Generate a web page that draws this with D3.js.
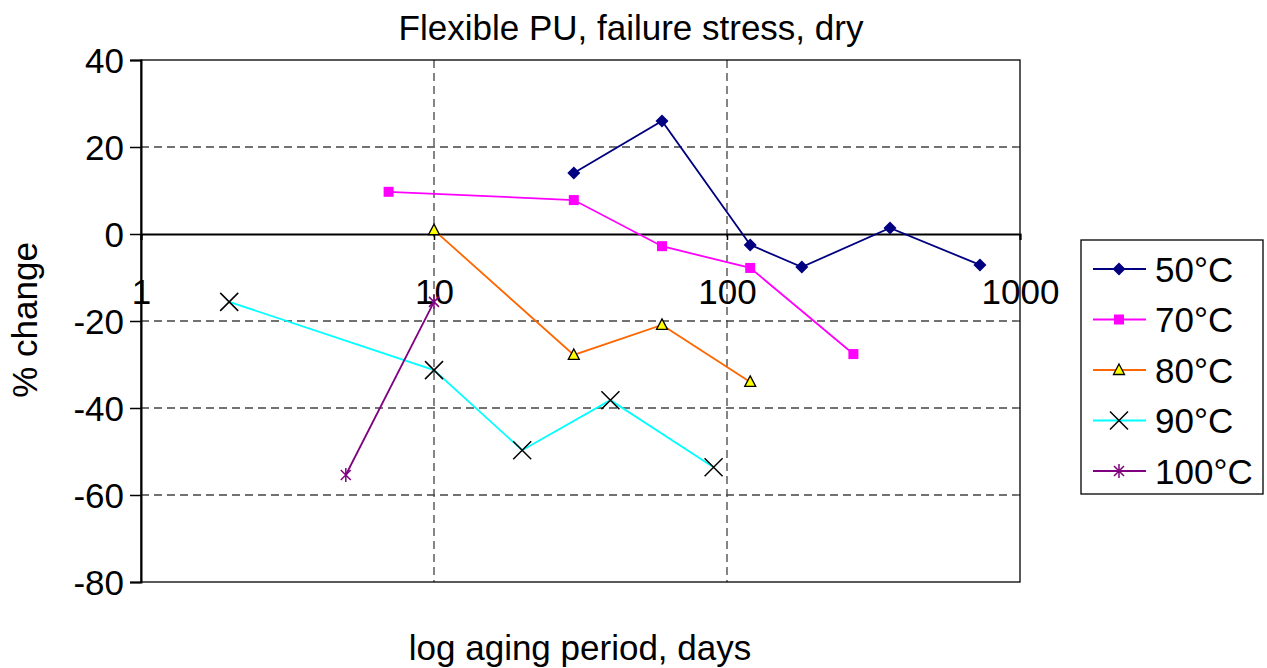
<!DOCTYPE html>
<html>
<head>
<meta charset="utf-8">
<script src="https://cdnjs.cloudflare.com/ajax/libs/d3/7.8.5/d3.min.js"></script>
<style>
  body { margin: 0; background: #fff; }
  text { font-family: "Liberation Sans", Arial, sans-serif; fill: #000; }
</style>
</head>
<body>
<div id="chart-area"></div>
<script>
// aging periods (days) and % change per series
var days50 = [30, 60, 120, 180, 360, 730];
var val50 = [14, 26, -2.5, -7.6, 1.4, -7.1];
var days70 = [7, 30, 60, 120, 270];
var val70 = [9.7, 7.8, -2.8, -7.8, -27.6];
var days80 = [10, 30, 60, 120];
var val80 = [0.9, -27.8, -20.9, -34];
var days90 = [2, 10, 20, 40, 90];
var val90 = [-15.6, -31.3, -49.7, -38.2, -53.6];
var days100 = [5, 10];
var val100 = [-55.4, -15.6];

var seriesNames = ['50°C', '70°C', '80°C', '90°C', '100°C'];
var xTicks = [1, 10, 100, 1000];
var yTicks = [40, 20, 0, -20, -40, -60, -80];

var series = [
  { name: seriesNames[0], days: days50, vals: val50, color: '#000080', marker: 'diamond' },
  { name: seriesNames[1], days: days70, vals: val70, color: '#ff00ff', marker: 'square' },
  { name: seriesNames[2], days: days80, vals: val80, color: '#ff6600', marker: 'triangle' },
  { name: seriesNames[3], days: days90, vals: val90, color: '#00ffff', marker: 'x' },
  { name: seriesNames[4], days: days100, vals: val100, color: '#800080', marker: 'star' }
];

var margin = { left: 141, top: 60 };
var width = 879, height = 522;
var fontFam = '"Liberation Sans", Arial, sans-serif';

var svg = d3.select('#chart-area').append('svg')
  .attr('width', 1267).attr('height', 668);

var g = svg.append('g')
  .attr('transform', 'translate(' + margin.left + ',' + margin.top + ')');

var x = d3.scaleLog().domain([1, 1000]).range([0, width]);
var y = d3.scaleLinear().domain([-80, 40]).range([height, 0]);

// gridlines
g.selectAll('.hgrid').data(yTicks.filter(d => d !== 0 && d !== 40 && d !== -80))
  .enter().append('line')
  .attr('x1', 0).attr('x2', width)
  .attr('y1', d => y(d)).attr('y2', d => y(d))
  .attr('stroke', '#444').attr('stroke-width', 1.3).attr('stroke-dasharray', '8,5');

g.selectAll('.vgrid').data([10, 100])
  .enter().append('line')
  .attr('x1', d => x(d)).attr('x2', d => x(d))
  .attr('y1', 0).attr('y2', height)
  .attr('stroke', '#444').attr('stroke-width', 1.3).attr('stroke-dasharray', '8,5');

// plot border
g.append('rect').attr('width', width).attr('height', height)
  .attr('fill', 'none').attr('stroke', '#000').attr('stroke-width', 1.3);

// y axis
var yAxis = d3.axisLeft(y).tickValues(yTicks).tickFormat(d => String(d)).tickSize(11).tickPadding(6);
var yg = g.append('g').call(yAxis);
yg.select('.domain').attr('stroke-width', 2);
yg.selectAll('.tick line').attr('stroke-width', 1.5);
yg.selectAll('text').attr('font-size', 35).attr('dy', '0.36em')
  .style('font-family', fontFam);

// x axis at y = 0
var xAxis = d3.axisBottom(x).tickValues(xTicks).tickFormat(d3.format('d')).tickSize(6).tickPadding(64);
var xg = g.append('g').attr('transform', 'translate(0,' + y(0) + ')').call(xAxis);
xg.select('.domain').attr('stroke-width', 2);
xg.selectAll('.tick line').attr('stroke-width', 1.5);
xg.selectAll('text').attr('font-size', 35).attr('dy', '0')
  .style('font-family', fontFam);

function drawMarker(sel, s) {
  if (s.marker === 'diamond') {
    sel.append('path').attr('d', 'M0,-6.5L6.5,0L0,6.5L-6.5,0Z')
      .attr('fill', s.color);
  } else if (s.marker === 'square') {
    sel.append('rect').attr('x', -5).attr('y', -5).attr('width', 10).attr('height', 10)
      .attr('fill', s.color);
  } else if (s.marker === 'triangle') {
    sel.append('path').attr('d', 'M0,-6L5.5,4.5L-5.5,4.5Z')
      .attr('fill', '#ffff00').attr('stroke', '#000').attr('stroke-width', 1.3);
  } else if (s.marker === 'x') {
    sel.append('path').attr('d', 'M-9,-9L9,9M-9,9L9,-9')
      .attr('stroke', '#000').attr('stroke-width', 1.5).attr('fill', 'none');
  } else if (s.marker === 'star') {
    sel.append('path').attr('d', 'M-5,-5L5,5M-5,5L5,-5M0,-7L0,7')
      .attr('stroke', s.color).attr('stroke-width', 1.5).attr('fill', 'none');
  }
}

var line = d3.line().x(d => x(d[0])).y(d => y(d[1]));

series.forEach(function (s) {
  var pts = s.days.map((d, i) => [d, s.vals[i]]);
  g.append('path').datum(pts)
    .attr('d', line)
    .attr('fill', 'none')
    .attr('stroke', s.color)
    .attr('stroke-width', 1.8);
  g.selectAll('.m-' + s.marker).data(pts).enter()
    .append('g')
    .attr('transform', d => 'translate(' + x(d[0]) + ',' + y(d[1]) + ')')
    .each(function () { drawMarker(d3.select(this), s); });
});

// title and axis labels
svg.append('text').attr('x', 631).attr('y', 40)
  .attr('text-anchor', 'middle').attr('font-size', 35)
  .text('Flexible PU, failure stress, dry');

svg.append('text').attr('x', 580).attr('y', 660)
  .attr('text-anchor', 'middle').attr('font-size', 35)
  .text('log aging period, days');

svg.append('text')
  .attr('transform', 'translate(37,320) rotate(-90)')
  .attr('text-anchor', 'middle').attr('font-size', 35)
  .text('% change');

// legend
var lg = svg.append('g').attr('transform', 'translate(1081,240)');
lg.append('rect').attr('width', 182).attr('height', 254)
  .attr('fill', '#fff').attr('stroke', '#000').attr('stroke-width', 1.3);

series.forEach(function (s, i) {
  var yy = 29 + i * 50.5;
  var row = lg.append('g').attr('transform', 'translate(0,' + yy + ')');
  row.append('line').attr('x1', 12).attr('x2', 65).attr('y1', 0).attr('y2', 0)
    .attr('stroke', s.color).attr('stroke-width', 1.8);
  var m = row.append('g').attr('transform', 'translate(38,0)');
  drawMarker(m, s);
  row.append('text').attr('x', 74).attr('y', 0).attr('dy', '0.36em')
    .attr('font-size', 35).text(s.name);
});
</script>
</body>
</html>
